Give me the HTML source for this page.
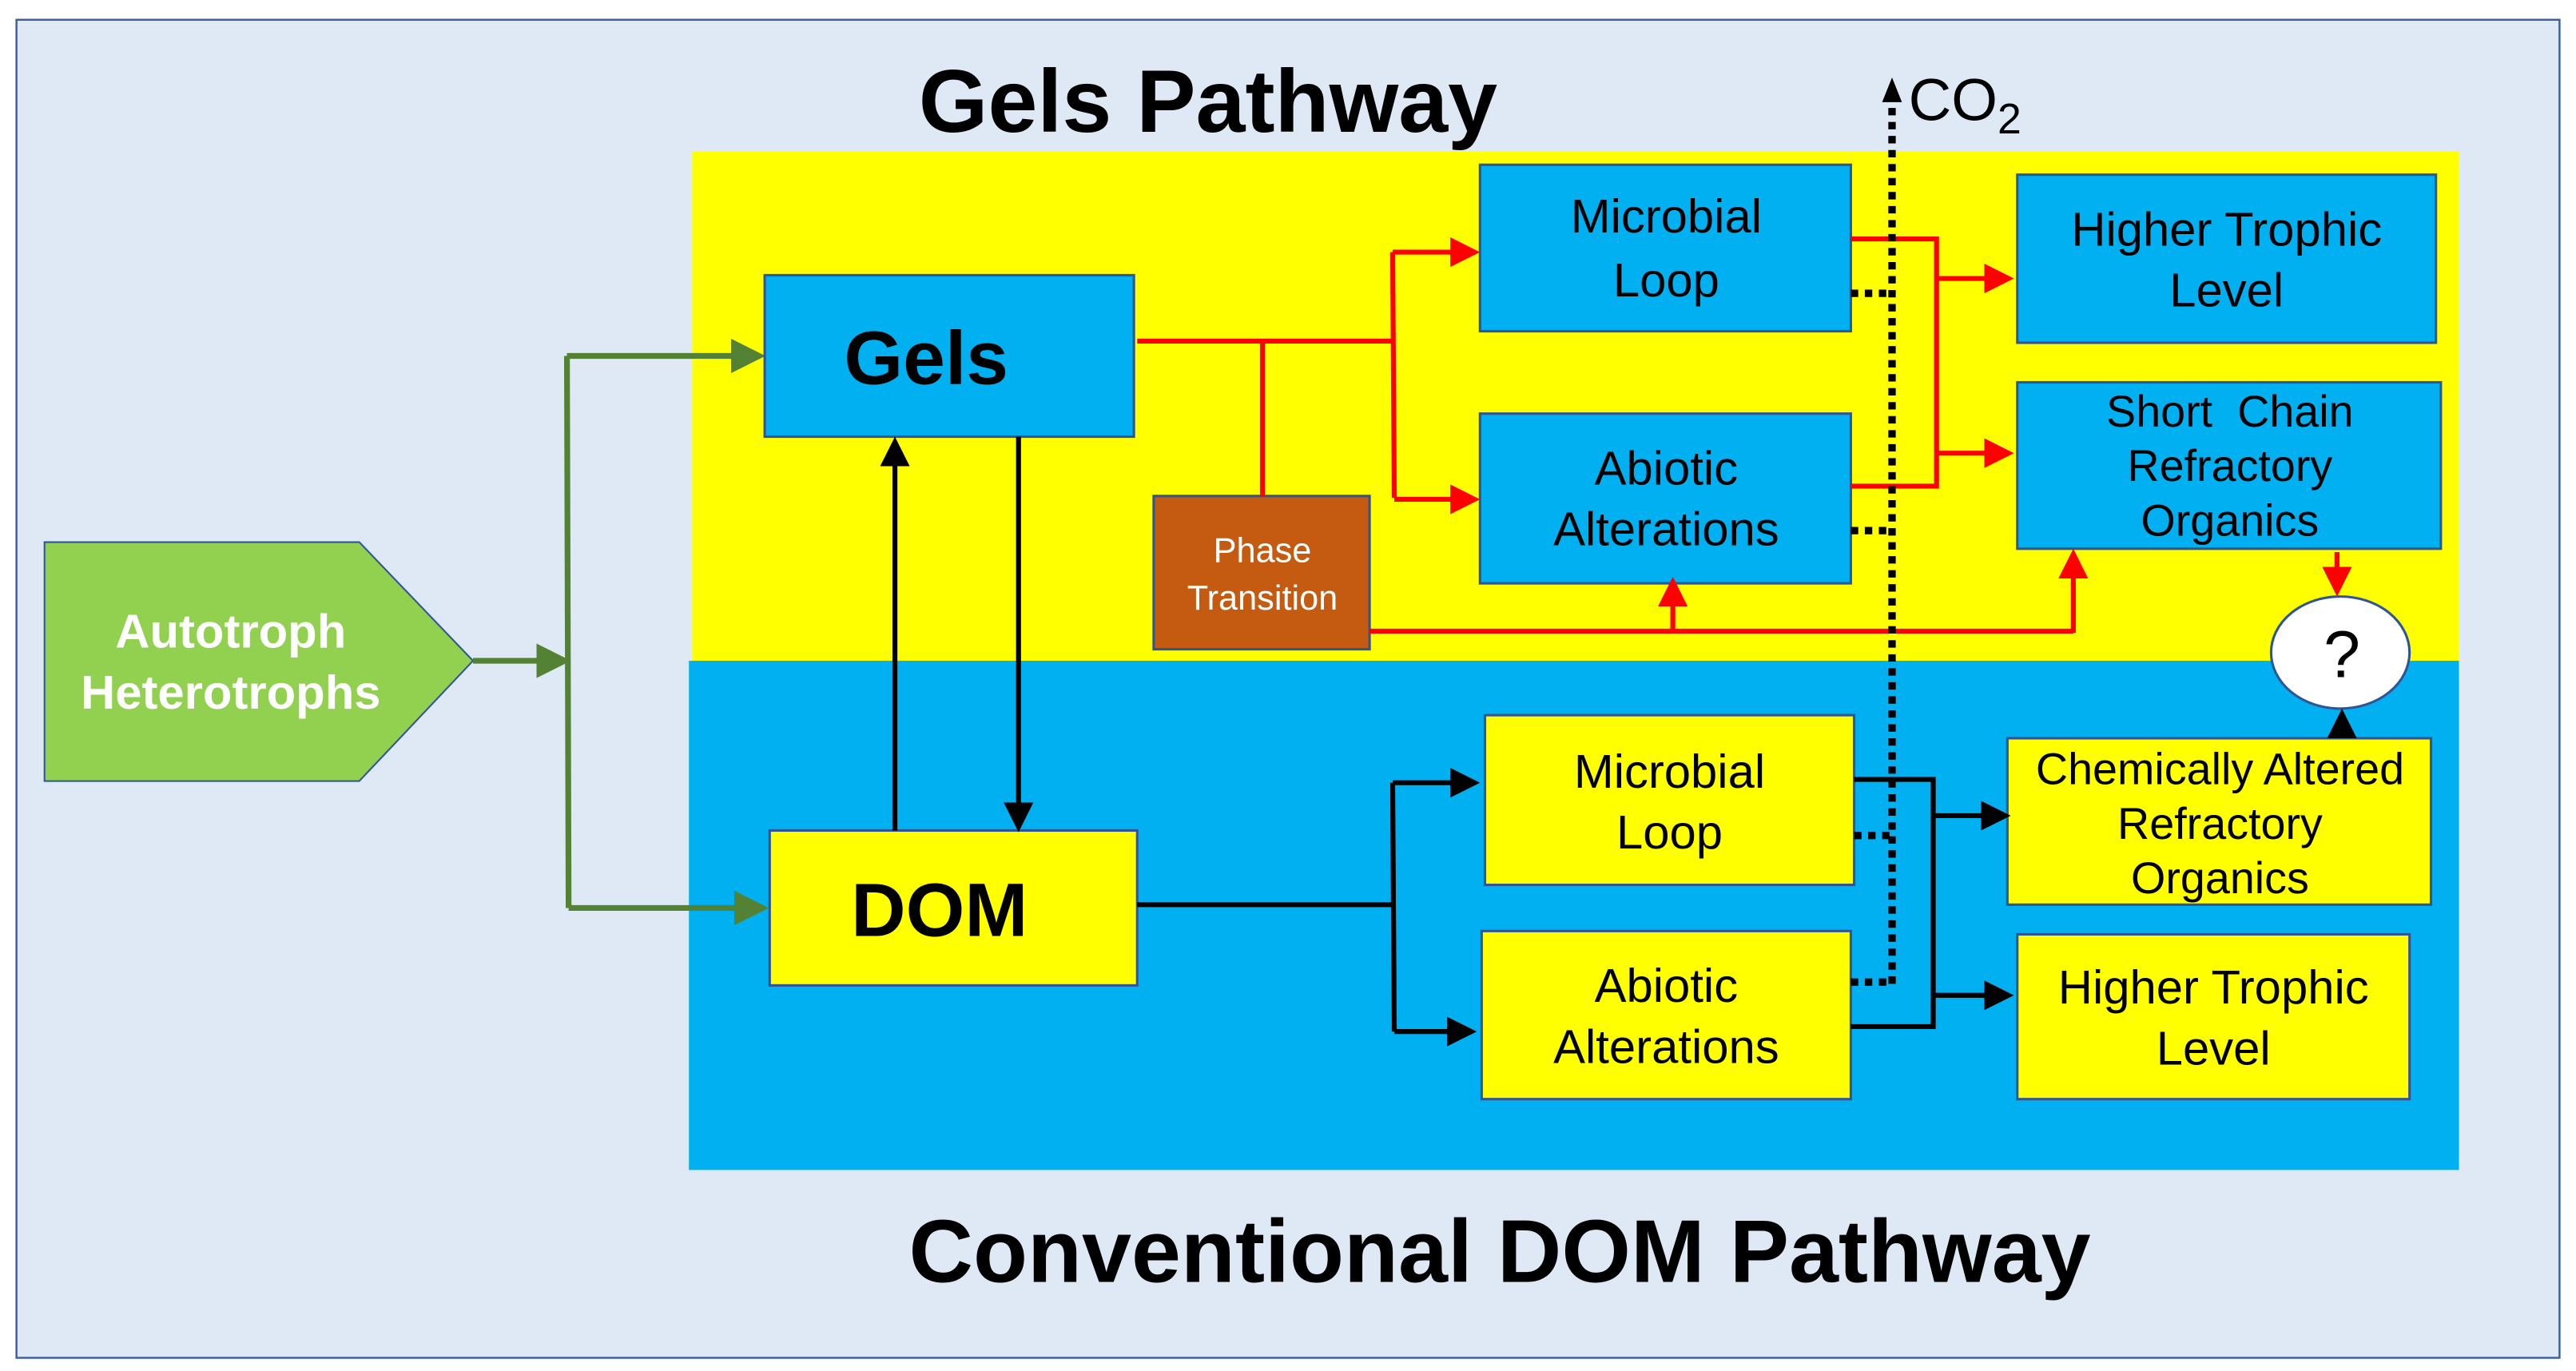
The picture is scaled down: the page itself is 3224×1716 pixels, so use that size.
<!DOCTYPE html>
<html><head><meta charset="utf-8"><style>
html,body{margin:0;padding:0;background:#fff;}
svg{display:block;}
text{font-family:"Liberation Sans",Arial,sans-serif;}
</style></head><body>
<svg width="3224" height="1716" viewBox="0 0 1563 832" preserveAspectRatio="none" xmlns="http://www.w3.org/2000/svg">
<defs>
<marker id="ag" markerWidth="6" markerHeight="6" refX="5" refY="3" orient="auto" markerUnits="strokeWidth"><path d="M0,0 L6,3 L0,6 z" fill="#548235"/></marker>
<marker id="ar" markerWidth="6" markerHeight="6" refX="5" refY="3" orient="auto" markerUnits="strokeWidth"><path d="M0,0 L6,3 L0,6 z" fill="#ff0000"/></marker>
<marker id="ab" markerWidth="6" markerHeight="6" refX="5" refY="3" orient="auto" markerUnits="strokeWidth"><path d="M0,0 L6,3 L0,6 z" fill="#000"/></marker>
</defs>
<rect x="10" y="12" width="1543" height="812" fill="#dee9f5" stroke="#3f5f9f" stroke-width="1.2"/>
<rect x="420" y="92" width="1072" height="309" fill="#ffff00"/>
<rect x="418" y="401" width="1074" height="309" fill="#00b0f0"/>
<text x="733" y="80" font-size="54" font-weight="bold" text-anchor="middle">Gels Pathway</text>
<text x="910" y="778" font-size="54" font-weight="bold" text-anchor="middle">Conventional DOM Pathway</text>
<polygon points="27,329 218,329 287,401 218,474 27,474" fill="#92d050" stroke="#2f5597" stroke-width="1"/>
<text x="140" y="393" font-size="29" font-weight="bold" fill="#fff" text-anchor="middle">Autotroph</text>
<text x="140" y="430" font-size="29" font-weight="bold" fill="#fff" text-anchor="middle">Heterotrophs</text>
<g stroke="#548235" stroke-width="3.5" fill="none">
<line x1="287" y1="401" x2="343" y2="401" marker-end="url(#ag)"/>
<polyline points="344,216 345,551"/>
<line x1="344" y1="216" x2="461" y2="216" marker-end="url(#ag)"/>
<line x1="345" y1="551" x2="463" y2="551" marker-end="url(#ag)"/>
</g>
<g stroke="#2f5597" stroke-width="1.5">
<rect x="464" y="167" width="224" height="98" fill="#00b0f0"/>
<rect x="467" y="504" width="223" height="94" fill="#ffff00"/>
<rect x="700" y="301" width="131" height="93" fill="#c55a11"/>
<rect x="898" y="100" width="225" height="101" fill="#00b0f0"/>
<rect x="898" y="251" width="225" height="103" fill="#00b0f0"/>
<rect x="1224" y="106" width="254" height="102" fill="#00b0f0"/>
<rect x="1224" y="232" width="257" height="101" fill="#00b0f0"/>
<rect x="901" y="434" width="224" height="103" fill="#ffff00"/>
<rect x="899" y="565" width="224" height="102" fill="#ffff00"/>
<rect x="1218" y="448" width="257" height="101" fill="#ffff00"/>
<rect x="1224" y="567" width="238" height="100" fill="#ffff00"/>
<ellipse cx="1420" cy="396" rx="42" ry="34" fill="#fff"/>
</g>
<text x="562" y="233" font-size="46" font-weight="bold" text-anchor="middle">Gels</text>
<text x="570" y="568" font-size="46" font-weight="bold" text-anchor="middle">DOM</text>
<text x="766" y="341" font-size="21" fill="#fff" text-anchor="middle">Phase</text>
<text x="766" y="370" font-size="21" fill="#fff" text-anchor="middle">Transition</text>
<g font-size="29" text-anchor="middle">
<text x="1011" y="141">Microbial</text><text x="1011" y="180">Loop</text>
<text x="1011" y="294">Abiotic</text><text x="1011" y="331">Alterations</text>
<text x="1351" y="149">Higher Trophic</text><text x="1351" y="186">Level</text>
<text x="1353" y="259" font-size="27">Short&#160; Chain</text><text x="1353" y="292" font-size="27">Refractory</text><text x="1353" y="325" font-size="27">Organics</text>
<text x="1013" y="478">Microbial</text><text x="1013" y="515">Loop</text>
<text x="1011" y="608">Abiotic</text><text x="1011" y="645">Alterations</text>
<text x="1347" y="476" font-size="27">Chemically Altered</text><text x="1347" y="509" font-size="27">Refractory</text><text x="1347" y="542" font-size="27">Organics</text>
<text x="1343" y="609">Higher Trophic</text><text x="1343" y="646">Level</text>
<text x="1421" y="411" font-size="40">?</text>
</g>
<text x="1158" y="73" font-size="36">CO<tspan font-size="26" dy="8">2</tspan></text>
<g stroke="#000" stroke-width="3" fill="none">
<line x1="543" y1="504" x2="543" y2="268" marker-end="url(#ab)"/>
<line x1="618" y1="265" x2="618" y2="502" marker-end="url(#ab)"/>
<line x1="690" y1="549" x2="845" y2="549"/>
<line x1="845" y1="475" x2="846" y2="626"/>
<line x1="845" y1="475" x2="895" y2="475" marker-end="url(#ab)"/>
<line x1="846" y1="626" x2="893" y2="626" marker-end="url(#ab)"/>
<polyline points="1125,473 1173,473 1173,623 1123,623"/>
<line x1="1173" y1="495" x2="1217" y2="495" marker-end="url(#ab)"/>
<line x1="1173" y1="604" x2="1219" y2="604" marker-end="url(#ab)"/>
<line x1="1421" y1="448" x2="1421" y2="433" marker-end="url(#ab)"/>
</g>
<g stroke="#ff0000" stroke-width="3" fill="none">
<line x1="690" y1="207" x2="845" y2="207"/>
<line x1="766" y1="207" x2="766" y2="301"/>
<line x1="845" y1="153" x2="846" y2="302"/>
<line x1="845" y1="153" x2="895" y2="153" marker-end="url(#ar)"/>
<line x1="846" y1="303" x2="895" y2="303" marker-end="url(#ar)"/>
<polyline points="1123,145 1175,145 1175,295 1123,295"/>
<line x1="1175" y1="169" x2="1219" y2="169" marker-end="url(#ar)"/>
<line x1="1175" y1="275" x2="1219" y2="275" marker-end="url(#ar)"/>
<polyline points="831,383 1258,383"/>
<line x1="1258" y1="384" x2="1258" y2="336" marker-end="url(#ar)"/>
<line x1="1015" y1="383" x2="1015" y2="353" marker-end="url(#ar)"/>
<line x1="1418" y1="335" x2="1418" y2="359" marker-end="url(#ar)"/>
</g>
<g stroke="#000" stroke-width="4.5" fill="none" stroke-dasharray="4.5,4">
<line x1="1148" y1="597" x2="1148" y2="62"/>
<line x1="1123" y1="178" x2="1148" y2="178"/>
<line x1="1123" y1="322" x2="1148" y2="322"/>
<line x1="1125" y1="507" x2="1148" y2="507"/>
<line x1="1123" y1="596" x2="1148" y2="596"/>
</g>
<path d="M1142,62 L1148,47 L1154,62 z" fill="#000"/>
</svg>
</body></html>
